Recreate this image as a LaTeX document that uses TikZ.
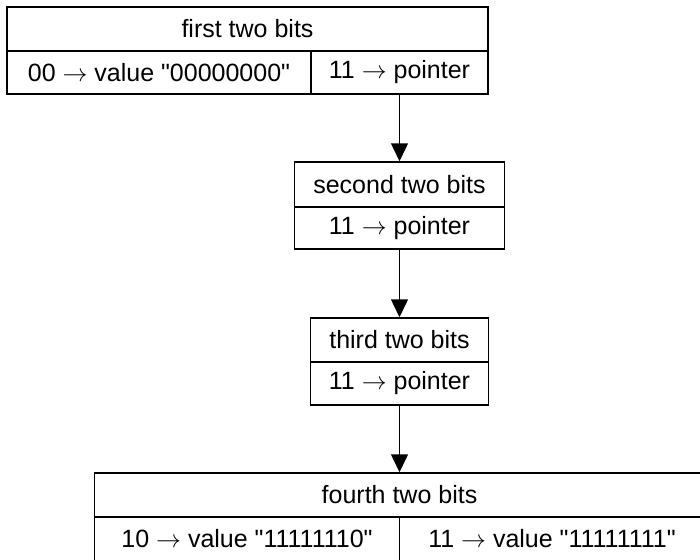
\documentclass[tikz,border=0pt]{standalone}
\usepackage{fontspec}
\setmainfont{Liberation Sans}
\usetikzlibrary{arrows.meta}
\begin{document}
\begin{tikzpicture}[x=1pt,y=-1pt,
  cell/.style={draw=black, line width=1.5pt, inner sep=0pt, anchor=center,
    font=\fontsize{25}{30}\selectfont},
  link/.style={line width=1.5pt, -{Triangle[length=18pt,width=17pt]}}]
\clip (0,0) rectangle (700,559);
\fill[white] (0,0) rectangle (700,559);
% first box
\node[cell, minimum width=481pt, minimum height=44pt] (h1) at (247.5,29) {first two bits};
\node[cell, minimum width=304pt, minimum height=43pt] (a1) at (159,72.5) {00 $\rightarrow$ value \textquotedbl 00000000\textquotedbl};
\node[cell, minimum width=177pt, minimum height=43pt] (b1) at (399.5,72.5) {11 $\rightarrow$ pointer};
% second box
\node[cell, minimum width=210pt, minimum height=45pt] (h2) at (399.5,184.5) {second two bits};
\node[cell, minimum width=210pt, minimum height=42pt] (b2) at (399.5,228) {11 $\rightarrow$ pointer};
% third box
\node[cell, minimum width=178pt, minimum height=44pt] (h3) at (399.5,340) {third two bits};
\node[cell, minimum width=178pt, minimum height=43pt] (b3) at (399.5,383.5) {11 $\rightarrow$ pointer};
% fourth box
\node[cell, minimum width=610pt, minimum height=44pt] (h4) at (399.5,495) {fourth two bits};
\node[cell, minimum width=305pt, minimum height=44pt] (a4) at (247,539) {10 $\rightarrow$ value \textquotedbl 11111110\textquotedbl};
\node[cell, minimum width=305pt, minimum height=44pt] (b4) at (552,539) {11 $\rightarrow$ value \textquotedbl 11111111\textquotedbl};
% connectors
\draw[link] (b1.south) -- (h2.north);
\draw[link] (b2.south) -- (h3.north);
\draw[link] (b3.south) -- (h4.north);
\end{tikzpicture}
\end{document}
